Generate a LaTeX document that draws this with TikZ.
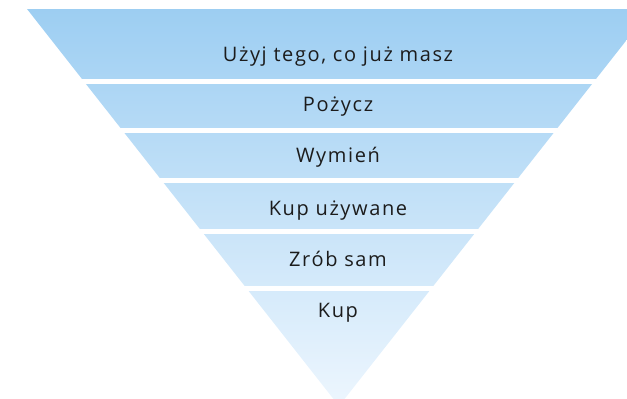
\documentclass[tikz,border=0pt]{standalone}
\usepackage{fontspec}
\setmainfont[LetterSpace=8]{Open Sans}
\definecolor{bandtop}{HTML}{9DCEF2}
\definecolor{bandbottom}{HTML}{EDF6FE}
\definecolor{labeltext}{HTML}{1C1C1C}
\begin{document}
\begin{tikzpicture}[x=1pt,y=-1pt,
  label/.style={text=labeltext,font=\fontsize{20}{24}\selectfont,anchor=base,inner sep=0pt},
  gap/.style={fill=white,draw=none}]
\useasboundingbox (0,0) rectangle (627,399);
% funnel body with one continuous vertical gradient
\shade[top color=bandtop,bottom color=bandbottom]
  (27,9) -- (651,9) -- (339,406) -- cycle;
% white separators between the levels
\fill[gap] (0,79) rectangle (627,84);
\fill[gap] (0,128) rectangle (627,133);
\fill[gap] (0,178) rectangle (627,183);
\fill[gap] (0,229) rectangle (627,234);
\fill[gap] (0,286) rectangle (627,291);
% level labels
\node[label] (l1) at (338,61) {Użyj tego, co już masz};
\node[label] (l2) at (338,111) {Pożycz};
\node[label] (l3) at (338,162) {Wymień};
\node[label] (l4) at (338,215) {Kup używane};
\node[label] (l5) at (338,266) {Zrób sam};
\node[label] (l6) at (338,317) {Kup};
\end{tikzpicture}
\end{document}
